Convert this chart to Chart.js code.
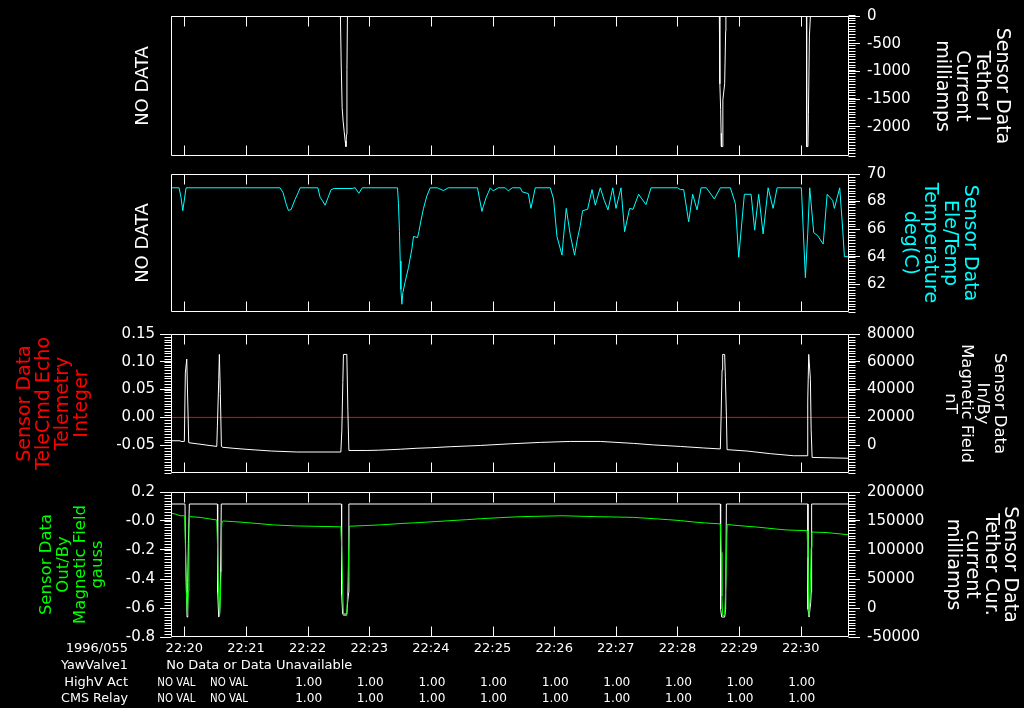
<!DOCTYPE html>
<html>
<head>
<meta charset="utf-8">
<title>Sensor Data 1996/055</title>
<script src="https://cdn.jsdelivr.net/npm/chart.js@4.4.1/dist/chart.umd.min.js"></script>
<style>
  html, body { margin: 0; padding: 0; background: #000; }
  body { width: 1024px; height: 708px; position: relative; overflow: hidden; }
  canvas { position: absolute; left: 0; }
</style>
</head>
<body>
<canvas id="panel1" width="1024" height="172" style="top:0px"></canvas>
<canvas id="panel2" width="1024" height="170" style="top:158px"></canvas>
<canvas id="panel3" width="1024" height="171" style="top:318px"></canvas>
<canvas id="panel4" width="1024" height="232" style="top:476px"></canvas>
<script>
// Time axis: minutes after 22:20:00, day 1996/055
const timeMin = -13 / 60;
const timeMax = 10 + 47 / 60;
const minuteTicks = [0, 1, 2, 3, 4, 5, 6, 7, 8, 9, 10];
const minuteLabels = ['22:20', '22:21', '22:22', '22:23', '22:24', '22:25', '22:26', '22:27', '22:28', '22:29', '22:30'];

// Panel 1: Tether I current (milliamps)
const tetherITime = [-0.217, 2.532, 2.544, 2.560, 2.576, 2.593, 2.609, 2.622, 2.630, 2.638, 2.646,
  8.680, 8.688, 8.701, 8.708, 8.713, 8.724, 8.737, 8.766, 8.782, 8.786,
  10.093, 10.097, 10.117, 10.125, 10.141, 10.157, 10.783];
const tetherIValue = [0, 0, -830, -1655, -1900, -2085, -2260, -2360, -2140, -965, 0,
  0, -1225, -1690, -2120, -2360, -2360, -1515, -1225, -275, 0,
  0, -2360, -2360, -1775, -360, 0, 0];
const tetherITicks = [0, -500, -1000, -1500, -2000];
const tetherILabels = ['0', '-500', '-1000', '-1500', '-2000'];

// Panel 2: Ele/Temp temperature (deg C)
const tempTime = [-0.217, -0.086, -0.054, -0.026, -0.005, 0.028, 1.554, 1.602, 1.651, 1.688,
  1.732, 1.797, 1.846, 1.878, 2.166, 2.203, 2.235, 2.284, 2.333, 2.381,
  2.430, 2.722, 2.771, 2.831, 2.885, 3.458, 3.474, 3.490, 3.502, 3.513,
  3.529, 3.545, 3.583, 3.636, 3.692, 3.718, 3.782, 3.805, 3.838, 3.880,
  3.935, 3.989, 4.102, 4.205, 4.281, 4.756, 4.784, 4.828, 4.849, 4.898,
  4.930, 4.963, 5.011, 5.093, 5.206, 5.255, 5.320, 5.450, 5.482, 5.580,
  5.623, 5.645, 5.693, 5.937, 5.990, 6.045, 6.127, 6.148, 6.196, 6.261,
  6.331, 6.375, 6.424, 6.461, 6.542, 6.614, 6.667, 6.748, 6.813, 6.873,
  6.951, 7.003, 7.084, 7.143, 7.224, 7.279, 7.370, 7.490, 7.571, 8.003,
  8.047, 8.101, 8.182, 8.247, 8.318, 8.383, 8.469, 8.599, 8.696, 8.859,
  8.940, 8.994, 9.086, 9.195, 9.253, 9.318, 9.390, 9.471, 9.552, 9.617,
  10.011, 10.039, 10.076, 10.114, 10.146, 10.211, 10.276, 10.364, 10.429, 10.519,
  10.546, 10.633, 10.682, 10.709, 10.783];
const tempValue = [69.0, 69.0, 68.31, 67.34, 67.97, 69.0, 69.0, 68.64, 67.83, 67.36,
  67.42, 68.17, 68.64, 69.0, 69.0, 68.31, 68.10, 67.74, 68.31, 68.87,
  68.95, 68.95, 69.0, 68.60, 69.0, 69.0, 67.85, 65.82, 63.69, 61.64,
  60.56, 61.41, 62.20, 63.22, 64.58, 65.48, 65.39, 65.82, 66.61, 67.51,
  68.42, 69.0, 69.0, 68.80, 69.0, 69.0, 68.31, 67.29, 67.63, 68.31,
  68.64, 69.0, 68.78, 69.0, 69.0, 68.78, 69.0, 69.0, 68.71, 68.58,
  67.51, 67.97, 69.0, 69.0, 68.19, 65.48, 64.12, 65.25, 67.51, 65.59,
  64.12, 65.25, 66.27, 67.34, 67.44, 68.87, 67.74, 69.0, 68.08, 67.40,
  69.0, 67.51, 69.0, 65.82, 67.51, 67.44, 68.53, 67.78, 69.0, 69.0,
  68.87, 68.87, 66.54, 68.53, 67.40, 69.0, 69.0, 68.19, 69.0, 69.0,
  67.85, 63.97, 68.53, 68.53, 65.93, 68.53, 65.66, 69.0, 67.51, 69.0,
  69.0, 66.16, 62.49, 65.71, 69.0, 65.75, 65.53, 64.92, 68.53, 68.08,
  67.51, 69.0, 65.93, 64.01, 64.01];
const tempTicks = [70, 68, 66, 64, 62];
const tempLabels = ['70', '68', '66', '64', '62'];

// Panel 3: TeleCmd Echo (integer, no data -> zero line) and In/By magnetic field (nT)
const echoTime = [-0.217, 10.783];
const echoValue = [0, 0];
const echoTicks = [0.15, 0.10, 0.05, 0.00, -0.05];
const echoLabels = ['0.15', '0.10', '0.05', '0.00', '-0.05'];
const inByTime = [-0.217, -0.070, -0.054, 0.000, 0.016, 0.039, 0.055, 0.071, 0.526, 0.536,
  0.558, 0.568, 0.584, 0.601, 0.623, 0.791, 0.985, 1.148, 1.419, 1.825,
  2.539, 2.555, 2.571, 2.581, 2.636, 2.653, 2.669, 2.961, 3.149, 3.502,
  3.773, 4.016, 4.313, 4.800, 5.287, 5.774, 6.261, 6.748, 7.289, 7.614,
  8.047, 8.425, 8.696, 8.708, 8.724, 8.734, 8.766, 8.778, 8.794, 8.805,
  9.130, 9.508, 9.886, 10.104, 10.114, 10.130, 10.157, 10.169, 10.185, 10.783];
const inByValue = [3200, 3200, 2700, 2700, 51900, 62000, 31700, 1800, -900, 13700,
  47300, 65300, 37200, -900, -1500, -2200, -2900, -3400, -4200, -4900,
  -4900, 10300, 45100, 65300, 65300, 24900, -3800, -3800, -3600, -2900,
  -2200, -1800, -1100, -200, 1000, 2000, 2700, 2700, 1300, 200,
  -900, -2000, -2700, 20400, 54100, 65300, 65300, 48500, 21600, -3200,
  -4200, -6100, -7600, -7600, 31700, 65300, 47300, 11500, -8800, -9400];
const inByTicks = [80000, 60000, 40000, 20000, 0];
const inByLabels = ['80000', '60000', '40000', '20000', '0'];

// Panel 4: Out/By magnetic field (gauss) and Tether Cur. current (milliamps)
const outByTime = [-0.217, -0.135, -0.070, 0.005, 0.016, 0.032, 0.049, 0.065, 0.075, 0.084,
  0.093, 0.255, 0.417, 0.526, 0.537, 0.550, 0.571, 0.584, 0.596, 0.604,
  0.612, 0.633, 0.795, 1.013, 1.175, 1.445, 1.802, 2.539, 2.552, 2.568,
  2.581, 2.636, 2.653, 2.662, 2.679, 2.961, 3.177, 3.529, 3.810, 4.070,
  4.573, 4.817, 5.125, 5.466, 6.127, 6.683, 7.289, 7.614, 7.857, 8.047,
  8.263, 8.437, 8.696, 8.709, 8.721, 8.734, 8.766, 8.786, 8.797, 8.807,
  8.968, 9.292, 9.455, 9.617, 9.779, 10.104, 10.117, 10.130, 10.136, 10.153,
  10.169, 10.182, 10.429, 10.753, 10.783];
const outByValue = [0.054, 0.047, 0.036, 0.036, -0.149, -0.484, -0.652, -0.484, -0.049, 0.034,
  0.030, 0.025, 0.014, 0.007, -0.149, -0.417, -0.652, -0.551, -0.350, -0.049,
  -0.004, 0.000, -0.004, -0.011, -0.017, -0.027, -0.034, -0.040, -0.183, -0.451,
  -0.652, -0.652, -0.417, -0.283, -0.036, -0.031, -0.027, -0.017, -0.011, -0.004,
  0.009, 0.016, 0.023, 0.030, 0.036, 0.030, 0.025, 0.016, 0.009, 0.003,
  -0.007, -0.013, -0.020, -0.216, -0.518, -0.652, -0.652, -0.417, -0.216, -0.024,
  -0.031, -0.042, -0.049, -0.056, -0.062, -0.067, -0.250, -0.551, -0.652, -0.484,
  -0.183, -0.076, -0.080, -0.094, -0.094];
const outByTicks = [0.2, 0, -0.2, -0.4, -0.6, -0.8];
const outByLabels = ['0.2', '-0.0', '-0.2', '-0.4', '-0.6', '-0.8'];
const tetherCurTime = [-0.217, 0.010, 0.023, 0.044, 0.055, 0.065, 0.081,
  0.536, 0.541, 0.557, 0.573, 0.588, 0.599,
  2.549, 2.552, 2.568, 2.636, 2.649, 2.666, 2.669,
  8.696, 8.701, 8.718, 8.766, 8.782, 8.794,
  10.114, 10.118, 10.136, 10.162, 10.170, 10.177, 10.783];
const tetherCurValue = [179300, 179300, 77600, -15600, 43700, 111500, 179300,
  179300, 26800, -15600, -10500, 60700, 179300,
  179300, 23400, -10500, -10500, 9800, 26800, 179300,
  179300, -2000, -15600, -15600, -2000, 179300,
  179300, -2000, -15600, 9800, 26800, 179300, 179300];
const tetherCurTicks = [200000, 150000, 100000, 50000, 0, -50000];
const tetherCurLabels = ['200000', '150000', '100000', '50000', '0', '-50000'];

// Status rows under the time axis
const dayStamp = '1996/055';
const statusNames = ['YawValve1', 'HighV Act', 'CMS Relay'];
const yawValveText = 'No Data or Data Unavailable';
const highVAct = ['NO VAL', 'NO VAL', '1.00', '1.00', '1.00', '1.00', '1.00', '1.00', '1.00', '1.00', '1.00'];
const cmsRelay = ['NO VAL', 'NO VAL', '1.00', '1.00', '1.00', '1.00', '1.00', '1.00', '1.00', '1.00', '1.00'];

const FONT = 'DejaVu Sans';
const WHITE = '#ffffff';

function points(xs, ys) {
    return xs.map((x, i) => ({ x: x, y: ys[i] }));
}

// box frame, inward minute ticks and minor value ticks
const framePlugin = {
    id: 'frame',
    afterDraw(chart, args, opts) {
        const { ctx, chartArea: a, scales } = chart;
        const l = Math.round(a.left) + 0.5, r = Math.round(a.right) - 0.5;
        const t = Math.round(a.top) + 0.5, b = Math.round(a.bottom) - 0.5;
        ctx.save();
        ctx.strokeStyle = WHITE;
        ctx.lineWidth = 1;
        ctx.beginPath();
        ctx.rect(l, t, r - l, b - t);
        minuteTicks.forEach(m => {
            const x = Math.round(scales.x.getPixelForValue(m)) + 0.5;
            ctx.moveTo(x, t); ctx.lineTo(x, t + 10);
            ctx.moveTo(x, b); ctx.lineTo(x, b - 10);
        });
        Object.entries(opts.minor || {}).forEach(([id, step]) => {
            const s = scales[id];
            const n = Math.round((s.max - s.min) / step);
            for (let i = 0; i <= n; i++) {
                const y = Math.round(s.getPixelForValue(s.min + i * step)) + 0.5;
                if (s.position === 'right') { ctx.moveTo(r, y); ctx.lineTo(r + 7, y); }
                else { ctx.moveTo(l, y); ctx.lineTo(l - 7, y); }
            }
        });
        ctx.stroke();
        ctx.restore();
    }
};

// text rows under the bottom panel
const footerPlugin = {
    id: 'footer',
    afterDraw(chart) {
        const { ctx, chartArea: a, scales: { x } } = chart;
        const rowY = [11.5, 28.5, 45.5, 62].map(d => a.bottom + d);
        ctx.save();
        ctx.fillStyle = WHITE;
        ctx.font = `13px "${FONT}"`;
        ctx.textBaseline = 'middle';
        ctx.textAlign = 'right';
        ctx.fillText(dayStamp, 128, rowY[0], 66);
        statusNames.forEach((n, i) => ctx.fillText(n, 128, rowY[i + 1], 67));
        ctx.textAlign = 'left';
        ctx.fillText(yawValveText, x.getPixelForValue(minuteTicks[0]) - 18, rowY[1], 207);
        ctx.textAlign = 'center';
        [highVAct, cmsRelay].forEach((row, r) => {
            row.forEach((txt, i) => {
                let px = x.getPixelForValue(minuteTicks[i]);
                if (txt === 'NO VAL') {
                    px -= i === 0 ? 8 : 17;
                    ctx.fillText(txt, px, rowY[r + 2], 38);
                } else {
                    ctx.fillText(txt, px + 1, rowY[r + 2], 27);
                }
            });
        });
        ctx.restore();
    }
};

function timeAxis(show) {
    return {
        type: 'linear',
        min: timeMin,
        max: timeMax,
        display: show,
        afterFit: s => { s.height = show ? 71 : 0; },
        afterBuildTicks: s => { s.ticks = minuteTicks.map(v => ({ value: v })); },
        ticks: {
            color: WHITE, font: { family: FONT, size: 13 }, padding: 4,
            autoSkip: false, maxRotation: 0,
            callback: (v, i) => minuteLabels[i]
        },
        grid: { display: false, drawTicks: false },
        border: { display: false }
    };
}

function valueAxis(o) {
    const left = o.position === 'left';
    const hasTicks = !!o.ticks;
    const axis = {
        type: 'linear',
        position: o.position,
        min: o.min,
        max: o.max,
        afterFit: s => { s.width = left ? 171 : 175; },
        ticks: {
            display: hasTicks, color: WHITE, font: { family: FONT, size: 15 },
            padding: left ? 5 : 7, autoSkip: false,
            callback: (v, i) => hasTicks ? o.labels[i] : ''
        },
        grid: { display: hasTicks, drawOnChartArea: false, drawTicks: true, tickLength: 11, tickColor: WHITE, tickWidth: 1 },
        border: { display: false },
        title: {
            display: true, text: o.title, color: o.color,
            font: { family: FONT, size: o.size, lineHeight: o.lh + 'px' },
            padding: { top: o.pad, bottom: 0 }
        }
    };
    if (hasTicks) axis.afterBuildTicks = s => { s.ticks = o.ticks.map(v => ({ value: v })); };
    return axis;
}

function makePanel(id, cfg) {
    return new Chart(document.getElementById(id), {
        type: 'line',
        data: { datasets: cfg.datasets },
        options: {
            responsive: false,
            animation: false,
            devicePixelRatio: 1,
            layout: { padding: { top: 12, bottom: cfg.bottom ? 0 : 12, left: 0, right: 0 } },
            elements: { point: { radius: 0 }, line: { borderWidth: 1, tension: 0 } },
            plugins: { legend: { display: false }, tooltip: { enabled: false }, frame: { minor: cfg.minor } },
            scales: { x: timeAxis(!!cfg.bottom), yL: cfg.yL, yR: cfg.yR }
        },
        plugins: cfg.bottom ? [framePlugin, footerPlugin] : [framePlugin]
    });
}

const noData = { position: 'left', min: 0, max: 1, title: 'NO DATA', color: WHITE, size: 18, lh: 20, pad: 133 };

makePanel('panel1', {
    datasets: [{ data: points(tetherITime, tetherIValue), borderColor: WHITE, yAxisID: 'yR' }],
    minor: { yR: 50 },
    yL: valueAxis(noData),
    yR: valueAxis({ position: 'right', min: -2530, max: 0, ticks: tetherITicks, labels: tetherILabels,
        title: ['Sensor Data', 'Tether I', 'Current', 'milliamps'], color: WHITE, size: 19, lh: 20, pad: 12 })
});

makePanel('panel2', {
    datasets: [{ data: points(tempTime, tempValue), borderColor: '#00ffff', yAxisID: 'yR' }],
    minor: { yR: 0.2 },
    yL: valueAxis(noData),
    yR: valueAxis({ position: 'right', min: 60, max: 70, ticks: tempTicks, labels: tempLabels,
        title: ['Sensor Data', 'Ele/Temp', 'Temperature', 'deg(C)'], color: '#00ffff', size: 19, lh: 20, pad: 44 })
});

makePanel('panel3', {
    datasets: [
        { data: points(inByTime, inByValue), borderColor: WHITE, yAxisID: 'yR' },
        { data: points(echoTime, echoValue), borderColor: '#ff0000', yAxisID: 'yL' }
    ],
    minor: { yL: 0.005, yR: 2000 },
    yL: valueAxis({ position: 'left', min: -0.10, max: 0.15, ticks: echoTicks, labels: echoLabels,
        title: ['Sensor Data', 'TeleCmd Echo', 'Telemetry', 'Integer'], color: '#ff0000', size: 19, lh: 19, pad: 15.5 }),
    yR: valueAxis({ position: 'right', min: -20000, max: 80000, ticks: inByTicks, labels: inByLabels,
        title: ['Sensor Data', 'In/By', 'Magnetic Field', 'nT'], color: WHITE, size: 16.5, lh: 16.3, pad: 17 })
});

makePanel('panel4', {
    bottom: true,
    datasets: [
        { data: points(outByTime, outByValue), borderColor: '#00ff00', yAxisID: 'yL' },
        { data: points(tetherCurTime, tetherCurValue), borderColor: WHITE, yAxisID: 'yR' }
    ],
    minor: { yL: 0.02, yR: 5000 },
    yL: valueAxis({ position: 'left', min: -0.8, max: 0.2, ticks: outByTicks, labels: outByLabels,
        title: ['Sensor Data', 'Out/By', 'Magnetic Field', 'gauss'], color: '#00ff00', size: 16.5, lh: 17, pad: 38 }),
    yR: valueAxis({ position: 'right', min: -50000, max: 200000, ticks: tetherCurTicks, labels: tetherCurLabels,
        title: ['Sensor Data', 'Tether Cur.', 'current', 'milliamps'], color: WHITE, size: 19, lh: 19, pad: 4.5 })
});
</script>
</body>
</html>
